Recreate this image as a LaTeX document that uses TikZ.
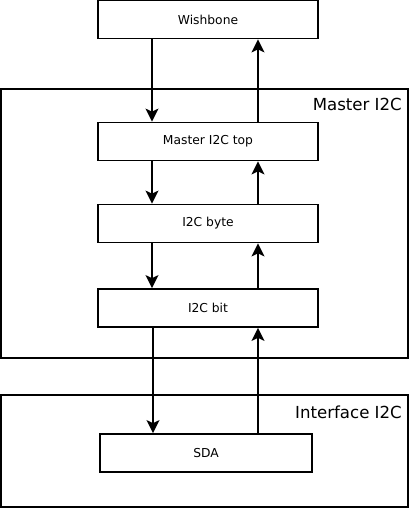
\documentclass[tikz,border=0pt]{standalone}
\usepackage{fontspec}
\setmainfont{DejaVu Sans}
\usetikzlibrary{arrows.meta}
\begin{document}
\begin{tikzpicture}[x=1pt,y=-1pt,
  blk/.style={draw,line width=1.8pt,minimum width=220pt,minimum height=38pt,inner sep=0pt,font=\fontsize{12.3}{14}\selectfont},
  grp/.style={draw,line width=1.8pt},
  grplbl/.style={anchor=east,font=\fontsize{16.6}{19}\selectfont,inner sep=0pt},
  arr/.style={line width=1.6pt,-{Stealth[length=13pt,width=13pt,inset=3pt]}}]
\useasboundingbox (0,0) rectangle (409,509);
\draw[grp] (1,89) rectangle (408,358);
\draw[grp] (1,395) rectangle (408,507);
\node[grplbl] (lm) at (402,104) {Master I2C};
\node[grplbl] (li) at (402,412) {Interface I2C};
\node[blk] (wb) at (208,19.5) {Wishbone};
\node[blk] (top) at (208,141.5) {Master I2C top};
\node[blk] (byte) at (208,223.5) {I2C byte};
\node[blk] (bit) at (208,308) {I2C bit};
\node[blk,minimum width=212pt] (sda) at (206,453) {SDA};
\draw[arr] (wb.south -| 152,0) -- (top.north -| 152,0);
\draw[arr] (top.north -| 258,0) -- (wb.south -| 258,0);
\draw[arr] (top.south -| 152,0) -- (byte.north -| 152,0);
\draw[arr] (byte.north -| 258,0) -- (top.south -| 258,0);
\draw[arr] (byte.south -| 152,0) -- (bit.north -| 152,0);
\draw[arr] (bit.north -| 258,0) -- (byte.south -| 258,0);
\draw[arr] (bit.south -| 153,0) -- (sda.north -| 153,0);
\draw[arr] (sda.north -| 258,0) -- (bit.south -| 258,0);
\end{tikzpicture}
\end{document}
